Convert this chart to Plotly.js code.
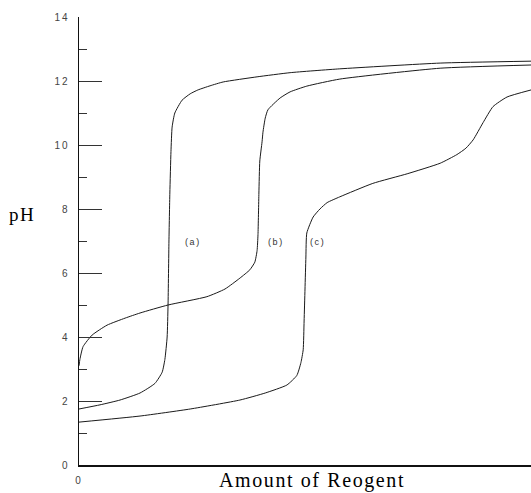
<!DOCTYPE html>
<html>
<head>
<meta charset="utf-8">
<script src="https://cdn.plot.ly/plotly-3.0.1.min.js"></script>
<style>
  html, body { margin: 0; padding: 0; background: #fff; }
  #chart { width: 531px; height: 493px; }
  .annotation-text { letter-spacing: 1.6px; }
  .ytick text, .xtick text { letter-spacing: 2px; }
</style>
</head>
<body>
<div id="chart"></div>
<script>
// Amount of reagent (arbitrary units, 0-100 across the plot) and pH
const xA = [0, 4.65, 9.07, 13.5, 16.8, 18.4, 19.0, 19.5, 19.7, 19.9, 20.1, 20.35, 20.6, 21.2, 22.8, 24.6, 26.3, 29.0, 31.9, 39.4, 46.7, 57.7, 79.9, 100];
const pHA = [1.75, 1.88, 2.03, 2.25, 2.55, 2.9, 3.3, 4.0, 5.0, 7.0, 8.5, 9.8, 10.56, 11.0, 11.4, 11.6, 11.72, 11.85, 11.97, 12.13, 12.26, 12.38, 12.56, 12.62];

const xB = [0, 0.2, 0.9, 2.9, 6.2, 10.2, 13.5, 19.7, 28.3, 32.3, 35.6, 37.8, 38.9, 39.4, 39.6, 39.8, 40.0, 40.5, 40.7, 41.2, 41.8, 44.5, 46.7, 50.4, 57.7, 79.9, 100];
const pHB = [3.1, 3.3, 3.7, 4.06, 4.37, 4.59, 4.75, 5.0, 5.26, 5.5, 5.84, 6.1, 6.34, 6.7, 7.2, 8.5, 9.5, 10.1, 10.4, 10.84, 11.1, 11.47, 11.66, 11.84, 12.06, 12.4, 12.5];

const xC = [0, 13.5, 24.6, 35.6, 41.2, 46.0, 48.2, 49.1, 49.6, 49.8, 50.0, 50.2, 50.4, 51.8, 53.3, 54.9, 57.7, 65.0, 72.6, 79.9, 83.6, 85.6, 87.2, 89.4, 91.6, 94.7, 100];
const pHC = [1.34, 1.53, 1.75, 2.03, 2.25, 2.5, 2.8, 3.2, 3.6, 4.5, 5.5, 6.5, 7.25, 7.75, 8.0, 8.2, 8.38, 8.8, 9.1, 9.43, 9.7, 9.9, 10.16, 10.7, 11.2, 11.5, 11.72];

const curveLabels = ['(a)', '(b)', '(c)'];
const labelX = [25.3, 43.6, 52.8];
const labelY = [6.97, 6.97, 6.97];

const yTickVals = [0, 2, 4, 6, 8, 10, 12, 14];
const yTickText = ['0', '2', '4', '6', '8', '10', '12', '14'];
const xTickVals = [0];
const xTickText = ['0'];

const lineStyle = {color: '#1a1a1a', width: 1, shape: 'spline', smoothing: 0.5};
const traces = [
  {x: xA, y: pHA, mode: 'lines', line: lineStyle, hoverinfo: 'skip'},
  {x: xB, y: pHB, mode: 'lines', line: lineStyle, hoverinfo: 'skip'},
  {x: xC, y: pHC, mode: 'lines', line: lineStyle, hoverinfo: 'skip'}
];

const annotations = curveLabels.map((t, i) => ({
  x: labelX[i], y: labelY[i], xref: 'x', yref: 'y', text: t, showarrow: false,
  xanchor: 'center', yanchor: 'middle',
  font: {family: 'Liberation Sans, Arial, sans-serif', size: 9, color: '#333'}
}));
annotations.push({
  x: -0.126, y: 7.84, xref: 'paper', yref: 'y', text: 'pH', showarrow: false,
  xanchor: 'center', yanchor: 'middle',
  font: {family: 'Liberation Serif, Times New Roman, serif', size: 19, color: '#000'}
});
annotations.push({
  x: 51.5, y: -0.034, xref: 'x', yref: 'paper', text: 'Amount of Reogent', showarrow: false,
  xanchor: 'center', yanchor: 'middle',
  font: {family: 'Liberation Serif, Times New Roman, serif', size: 20, color: '#000'}
});

const layout = {
  width: 531, height: 493,
  margin: {l: 79, r: 0, t: 17, b: 28, pad: 0},
  paper_bgcolor: '#fff', plot_bgcolor: '#fff',
  showlegend: false,
  xaxis: {
    range: [0, 100], showgrid: false, zeroline: false,
    showline: true, linecolor: '#111', linewidth: 1.5,
    tickvals: xTickVals, ticktext: xTickText, ticks: '',
    tickfont: {family: 'Liberation Sans, Arial, sans-serif', size: 10, color: '#444'},
    ticklabelstandoff: 5
  },
  yaxis: {
    range: [0, 14], showgrid: false, zeroline: false,
    showline: true, linecolor: '#111', linewidth: 1.5,
    tickvals: yTickVals, ticktext: yTickText,
    ticks: 'inside', ticklen: 23, tickwidth: 1, tickcolor: '#333',
    minor: {tickvals: [1, 3, 5, 7, 9, 11, 13], ticks: 'inside', ticklen: 8, tickwidth: 1, tickcolor: '#333'},
    tickfont: {family: 'Liberation Sans, Arial, sans-serif', size: 10, color: '#444'},
    ticklabelstandoff: 6
  },
  annotations: annotations
};

Plotly.newPlot('chart', traces, layout, {staticPlot: true, displayModeBar: false});
</script>
</body>
</html>
